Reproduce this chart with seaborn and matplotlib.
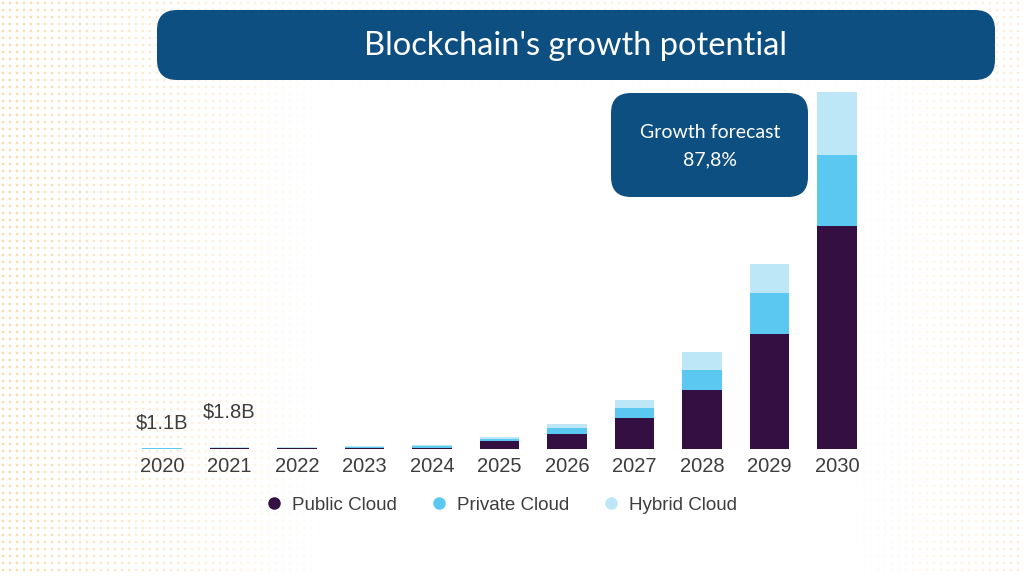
import numpy as np
import pandas as pd
import matplotlib
matplotlib.use("Agg")
import matplotlib.pyplot as plt
import seaborn as sns
from matplotlib.patches import FancyBboxPatch
from matplotlib.lines import Line2D

# ---- data (approx. $B) ----
years = ["2020", "2021", "2022", "2023", "2024", "2025", "2026", "2027", "2028", "2029", "2030"]
public_cloud = [0.3, 0.5, 0.5, 0.8, 1.2, 7.2, 13.5, 27.9, 53.1, 103.5, 200.7]
private_cloud = [0.4, 0.6, 0.7, 0.9, 1.3, 1.8, 5.4, 9.0, 18.0, 36.9, 63.9]
hybrid_cloud = [0.4, 0.7, 0.7, 0.7, 0.8, 1.8, 3.6, 7.2, 16.2, 26.1, 56.7]
series_names = ["Public Cloud", "Private Cloud", "Hybrid Cloud"]
labels_text = {"2020": "$1.1B", "2021": "$1.8B"}
title = "Blockchain's growth potential"
box_text = "Growth forecast\n87,8%"

colors = {"Public Cloud": "#341042", "Private Cloud": "#5bc8f2", "Hybrid Cloud": "#bde6f7"}
banner = "#0e4f82"

df = pd.DataFrame({"year": years, "Public Cloud": public_cloud,
                   "Private Cloud": private_cloud, "Hybrid Cloud": hybrid_cloud})
df["c1"] = df["Public Cloud"]
df["c2"] = df["c1"] + df["Private Cloud"]
df["c3"] = df["c2"] + df["Hybrid Cloud"]

sns.set_theme(style="white")
plt.rcParams["font.family"] = ["Liberation Sans", "DejaVu Sans"]

fig = plt.figure(figsize=(10.24, 5.76), dpi=100)
fig.patch.set_facecolor("white")

# ---- background dots ----
bg = fig.add_axes([0, 0, 1, 1], zorder=0)
bg.set_xlim(0, 1024); bg.set_ylim(576, 0); bg.axis("off")
gx, gy = np.meshgrid(np.arange(3, 1024, 7), np.arange(3, 576, 7))
gx = gx.ravel(); gy = gy.ravel()
left = np.clip(1 - gx / 330.0, 0, 1)
right = np.clip((gx - 850) / 170.0, 0, 1) * 0.45
top = np.clip(1 - gy / 90.0, 0, 1) * 0.35
alpha = np.clip(np.maximum(np.maximum(left, right), top), 0, 1) * 0.65
rgba = np.zeros((len(gx), 4))
rgba[:, :3] = matplotlib.colors.to_rgb("#f1ca85")
rgba[:, 3] = alpha
bg.scatter(gx, gy, s=4, c=rgba, linewidths=0)

# ---- chart ----
ax = fig.add_axes([128.25 / 1024, 1 - 449 / 576, 742.5 / 1024, 364 / 576], zorder=1)
ax.patch.set_alpha(0)
for col, name in [("c3", "Hybrid Cloud"), ("c2", "Private Cloud"), ("c1", "Public Cloud")]:
    sns.barplot(data=df, x="year", y=col, color=colors[name], width=0.58,
                saturation=1, linewidth=0, ax=ax, order=years)
ax.set_xlim(-0.5, len(years) - 0.5)
ax.set_ylim(0, 364 * 0.9)
ax.set_xlabel(""); ax.set_ylabel("")
ax.set_yticks([])
for s in ax.spines.values():
    s.set_visible(False)
ax.tick_params(axis="x", length=0, pad=6, labelsize=14.5, labelcolor="#3d3d3d")

offs = {"2020": 18, "2021": 25}
for yr, txt in labels_text.items():
    i = years.index(yr)
    ax.annotate(txt.replace("$", r"\$"), xy=(i, df.loc[i, "c3"]), xytext=(0, offs[yr]),
                textcoords="offset points", ha="center", va="center",
                fontsize=14.5, color="#3d3d3d")

handles = [Line2D([], [], marker="o", linestyle="none", markersize=9,
                  markerfacecolor=colors[n], markeredgewidth=0) for n in series_names]
fig.legend(handles, series_names, loc="center", bbox_to_anchor=(0.489, 1 - 505 / 576),
           ncol=3, frameon=False, fontsize=13.5, labelcolor="#3d3d3d",
           handletextpad=0.45, columnspacing=1.75, handlelength=1.0)

# ---- overlay boxes ----
ov = fig.add_axes([0, 0, 1, 1], zorder=3)
ov.set_xlim(0, 1024); ov.set_ylim(576, 0); ov.axis("off"); ov.patch.set_alpha(0)
ov.add_patch(FancyBboxPatch((157 + 20, 10 + 20), 838 - 40, 70 - 40,
                            boxstyle="round,pad=20,rounding_size=20",
                            facecolor=banner, edgecolor="none"))
ov.text(576, 46, title, ha="center", va="center", color="white", fontsize=23.5,
        family=["Lato", "DejaVu Sans"])
ov.add_patch(FancyBboxPatch((611 + 20, 93 + 20), 197 - 40, 104 - 40,
                            boxstyle="round,pad=20,rounding_size=20",
                            facecolor=banner, edgecolor="none"))
ov.text(710, 146, box_text, ha="center", va="center", color="white", fontsize=14,
        linespacing=1.75, family=["Lato", "DejaVu Sans"])

fig.savefig("out.png", dpi=100)
